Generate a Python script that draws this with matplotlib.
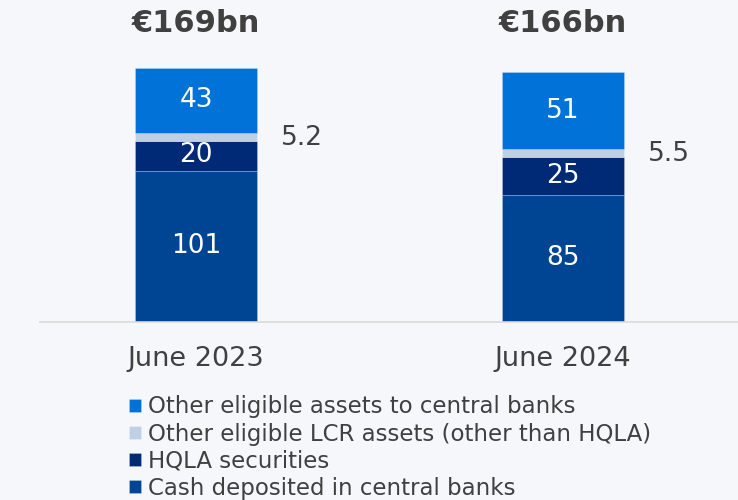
import matplotlib.pyplot as plt
import numpy as np

# data
categories = ["June 2023", "June 2024"]
cash = [101, 85]
hqla = [20, 25]
other_lcr = [5.2, 5.5]
other_eligible = [43, 51]
totals = ["€169bn", "€166bn"]

series_names = ["Cash deposited in central banks", "HQLA securities",
                "Other eligible LCR assets (other than HQLA)",
                "Other eligible assets to central banks"]
colors = ["#004494", "#002A76", "#C0D0E4", "#0072D8"]

bg = "#F6F7FB"
txt = "#404040"
plt.rcParams['font.family'] = ['DejaVu Sans']

fig = plt.figure(figsize=(7.38, 5), dpi=100, facecolor=bg)
ax = fig.add_axes([40/738, 178/500, 698/738, 322/500])
ax.set_facecolor(bg)

x = np.arange(len(categories))
width = 0.332
stack = [cash, hqla, other_lcr, other_eligible]
bottom = np.zeros(len(categories))
bars = []
for vals, col, name in zip(stack, colors, series_names):
    b = ax.bar(x, vals, width, bottom=bottom, color=col, label=name,
               edgecolor=(1, 1, 1, 0.25), linewidth=0.6)
    bars.append(b)
    bottom = bottom + np.array(vals)

# segment labels inside bars (white) and LCR to the right
for vals, bot in zip([cash, hqla, other_eligible],
                     [np.zeros(2), np.array(cash), np.array(cash) + np.array(hqla) + np.array(other_lcr)]):
    for i in range(len(categories)):
        ax.text(x[i], bot[i] + vals[i] / 2, f"{vals[i]}", ha="center", va="center",
                color="white", fontsize=19)

lcr_bot = np.array(cash) + np.array(hqla)
for i in range(len(categories)):
    ax.text(x[i] + width / 2 + 0.065, lcr_bot[i] + other_lcr[i] / 2 - 1, f"{other_lcr[i]}",
            ha="left", va="center", color=txt, fontsize=19)
    ax.text(x[i], 199, totals[i], ha="center", va="center",
            color=txt, fontsize=22, fontweight="bold")

ax.set_xlim((40 - 196) / 367, (738 - 196) / 367)
ax.set_ylim(0, 322 / 1.5)
for s in ["top", "right", "left"]:
    ax.spines[s].set_visible(False)
ax.spines["bottom"].set_color("#D9D9D9")
ax.spines["bottom"].set_linewidth(1.2)
ax.set_yticks([])
ax.set_xticks(x)
ax.set_xticklabels(categories, fontsize=19.5, color=txt)
ax.tick_params(axis="x", length=0, pad=17)

handles = [bars[3], bars[2], bars[1], bars[0]]
leg = fig.legend(handles, [h.get_label() for h in handles], loc="upper left",
                 bbox_to_anchor=(118/738, 1 - 384/500), frameon=False,
                 fontsize=16.5, handlelength=0.52, handleheight=0.52,
                 handletextpad=0.3, labelspacing=0.18, borderpad=0)
for t in leg.get_texts():
    t.set_color(txt)

fig.savefig("out.png", dpi=100, facecolor=bg)
